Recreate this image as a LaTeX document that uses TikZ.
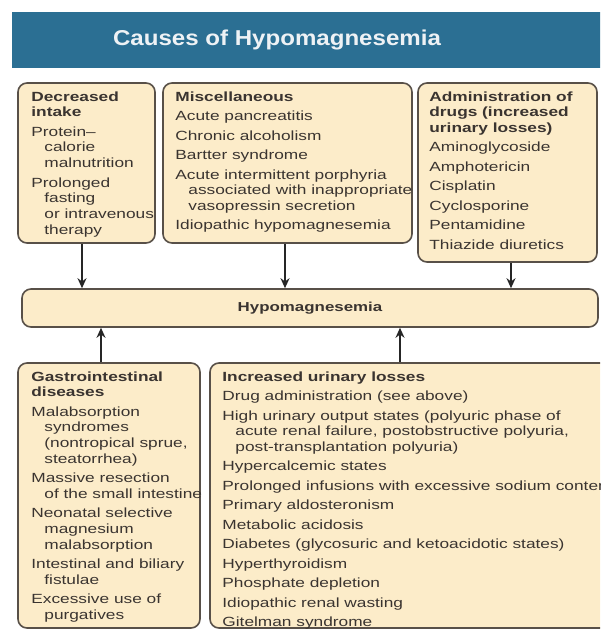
\documentclass[tikz,border=0pt]{standalone}
\usepackage{fontspec}
\setmainfont{Liberation Sans}[FakeStretch=1.3]
\newfontfamily\titlefont{Liberation Sans}[FakeStretch=1.12]
\usetikzlibrary{positioning,arrows.meta}

\definecolor{barblue}{RGB}{43,111,147}
\definecolor{cream}{RGB}{252,236,201}
\definecolor{framegray}{RGB}{88,80,72}
\definecolor{ink}{RGB}{58,52,48}
\definecolor{titlewhite}{RGB}{238,242,245}

\tikzset{
  cause/.style={draw=framegray, fill=cream, line width=1.6pt, rounded corners=9pt,
    inner sep=0pt, text=ink, font=\fontsize{13.3}{15.7}\selectfont},
  list/.style={anchor=north west, align=left, inner sep=0pt, text=ink,
    font=\fontsize{13.3}{15.7}\selectfont},
  link/.style={->, line width=1.9pt, draw=black!85}
}
\newcommand{\hd}[1]{\textbf{#1}}
\newcommand{\ind}{\hspace*{13pt}}

\begin{document}
\begin{tikzpicture}[x=1pt, y=-1pt, >={Stealth[length=10pt,width=9pt]}]
  \useasboundingbox (0,0) rectangle (600,631);
  \clip (0,0) rectangle (600,631);
  \fill[white] (0,0) rectangle (600,631);

  % title bar
  \node[fill=barblue, minimum width=600, minimum height=56, inner sep=0pt, anchor=north west] (bar) at (12,12) {};
  \node[text=titlewhite, font=\titlefont\bfseries\fontsize{21.5}{25}\selectfont] (title) at (277,40) {Causes of Hypomagnesemia};

  % boxes
  \node[cause, minimum width=137, minimum height=160] (intake) at (86.5,163) {};
  \node[cause, minimum width=249, minimum height=160] (misc) at (287.5,163) {};
  \node[cause, minimum width=179, minimum height=179] (drugs) at (507.5,172.5) {};
  \node[cause, minimum width=576, minimum height=38, font=\bfseries\fontsize{13}{15}\selectfont] (hypo) at (310,308) {Hypomagnesemia};
  \node[cause, minimum width=182, minimum height=265] (gi) at (109,495.5) {};
  \node[cause, minimum width=420, minimum height=265] (urine) at (420,495.5) {};

  % box texts
  \node[list] (intake-txt) at ([xshift=14pt,yshift=-9pt]intake.north west)
    {\hd{Decreased}\\ \hd{intake}\\[3.8pt]
     Protein–\\ \ind calorie\\ \ind malnutrition\\[3.8pt]
     Prolonged\\ \ind fasting\\ \ind or intravenous\\ \ind therapy};
  \node[list] (misc-txt) at ([xshift=13pt,yshift=-9pt]misc.north west)
    {\hd{Miscellaneous}\\[3.8pt]
     Acute pancreatitis\\[3.8pt]
     Chronic alcoholism\\[3.8pt]
     Bartter syndrome\\[3.8pt]
     Acute intermittent porphyria\\ \ind associated with inappropriate\\ \ind vasopressin secretion\\[3.8pt]
     Idiopathic hypomagnesemia};
  \node[list] (drugs-txt) at ([xshift=12pt,yshift=-9pt]drugs.north west)
    {\hd{Administration of}\\ \hd{drugs (increased}\\ \hd{urinary losses)}\\[3.8pt]
     Aminoglycoside\\[3.8pt]
     Amphotericin\\[3.8pt]
     Cisplatin\\[3.8pt]
     Cyclosporine\\[3.8pt]
     Pentamidine\\[3.8pt]
     Thiazide diuretics};
  \node[list] (gi-txt) at ([xshift=14pt,yshift=-9pt]gi.north west)
    {\hd{Gastrointestinal}\\ \hd{diseases}\\[3.7pt]
     Malabsorption\\ \ind syndromes\\ \ind (nontropical sprue,\\ \ind steatorrhea)\\[3.7pt]
     Massive resection\\ \ind of the small intestine\\[3.7pt]
     Neonatal selective\\ \ind magnesium\\ \ind malabsorption\\[3.7pt]
     Intestinal and biliary\\ \ind fistulae\\[3.7pt]
     Excessive use of\\ \ind purgatives};
  \node[list] (urine-txt) at ([xshift=13pt,yshift=-9pt]urine.north west)
    {\hd{Increased urinary losses}\\[3.8pt]
     Drug administration (see above)\\[3.8pt]
     High urinary output states (polyuric phase of\\ \ind acute renal failure, postobstructive polyuria,\\ \ind post-transplantation polyuria)\\[3.8pt]
     Hypercalcemic states\\[3.8pt]
     Prolonged infusions with excessive sodium content\\[3.8pt]
     Primary aldosteronism\\[3.8pt]
     Metabolic acidosis\\[3.8pt]
     Diabetes (glycosuric and ketoacidotic states)\\[3.8pt]
     Hyperthyroidism\\[3.8pt]
     Phosphate depletion\\[3.8pt]
     Idiopathic renal wasting\\[3.8pt]
     Gitelman syndrome};

  % arrows
  \draw[link] ([xshift=-4.5pt]intake.south) -- ([xshift=-4.5pt]intake.south |- hypo.north);
  \draw[link] ([xshift=-2.5pt]misc.south) -- ([xshift=-2.5pt]misc.south |- hypo.north);
  \draw[link] ([xshift=3.5pt]drugs.south) -- ([xshift=3.5pt]drugs.south |- hypo.north);
  \draw[link] ([xshift=-8pt]gi.north) -- ([xshift=-8pt]gi.north |- hypo.south);
  \draw[link] ([xshift=-20pt]urine.north) -- ([xshift=-20pt]urine.north |- hypo.south);
\end{tikzpicture}
\end{document}
